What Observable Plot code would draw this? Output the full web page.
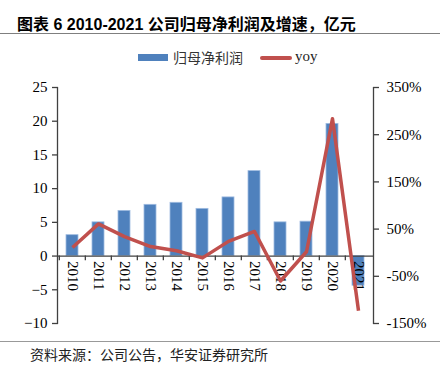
<!DOCTYPE html>
<html>
<head>
<meta charset="utf-8">
<script src="https://cdn.jsdelivr.net/npm/d3@7"></script>
<script src="https://cdn.jsdelivr.net/npm/@observablehq/plot@0.6"></script>
<style>
  html, body { margin: 0; padding: 0; background: #fff; }
  #wrap { position: relative; width: 440px; height: 370px; overflow: hidden; background: #fff; }
  .title { position: absolute; left: 17px; top: 11px; font: bold 16px "Liberation Sans", "Noto Sans CJK SC", sans-serif; color: #000; white-space: nowrap; }
  .hr { position: absolute; left: 0; width: 440px; height: 1px; background: #7f7f7f; }
  .legend { position: absolute; top: 48px; left: 0; width: 440px; height: 20px; font: 14px "Noto Sans CJK SC", sans-serif; color: #333; }
  .legend .sw { position: absolute; }
  .legend .lb { position: absolute; top: 0; white-space: nowrap; }
  .foot { position: absolute; left: 30px; top: 344px; font: 14px "Noto Sans CJK SC", sans-serif; color: #222; white-space: nowrap; }
  #chart { position: absolute; left: 0; top: 70px; }
</style>
</head>
<body>
<div id="wrap">
  <div class="title">图表 6 2010-2021 公司归母净利润及增速，亿元</div>
  <div class="hr" style="top:33px"></div>
  <div class="legend">
    <div class="sw" style="left:138px; top:6px; width:30px; height:7px; background:#4F81BD"></div>
    <div class="lb" style="left:173px; top:-1px">归母净利润</div>
    <div class="sw" style="left:260px; top:8px; width:32px; height:4px; background:#C0504D; border-radius:2px"></div>
    <div class="lb" style="left:295px; top:0px; font: 15px 'Liberation Serif', serif; color:#222">yoy</div>
  </div>
  <div id="chart"></div>
  <div class="hr" style="top:341px; background:#999"></div>
  <div class="foot">资料来源：公司公告，华安证券研究所</div>
</div>
<script>
const years = ["2010","2011","2012","2013","2014","2015","2016","2017","2018","2019","2020","2021"];
const profit = [3.1, 5.0, 6.7, 7.6, 7.9, 7.0, 8.7, 12.6, 5.0, 5.1, 19.6, -4.4];
const yoy = [11, 61, 34, 13, 4, -11, 24, 45, -60, 2, 284, -123];
const leftTicks = [-10, -5, 0, 5, 10, 15, 20, 25];
const rightTicks = [-150, -50, 50, 150, 250, 350];

const leftDomain = [-10, 25];
const rightDomain = [-150, 350];
const toLeft = v => leftDomain[0] + (v - rightDomain[0]) / (rightDomain[1] - rightDomain[0]) * (leftDomain[1] - leftDomain[0]);
const fromLeft = v => rightDomain[0] + (v - leftDomain[0]) / (leftDomain[1] - leftDomain[0]) * (rightDomain[1] - rightDomain[0]);

const data = years.map((y, i) => ({year: y, profit: profit[i], yoy: yoy[i], yoyL: toLeft(yoy[i])}));

const W = 440, H = 270, ml = 57, mr = 67, mt = 17, mb = 17;
const step = (W - ml - mr) / years.length;
const axisColor = "#404040";
const font = "'Liberation Serif', 'Times New Roman', serif";

const plot = Plot.plot({
  width: W, height: H,
  marginLeft: ml, marginRight: mr, marginTop: mt, marginBottom: mb,
  style: {fontFamily: font, fontSize: "15px", color: "#000", background: "transparent"},
  x: {domain: years, paddingInner: 0.52, paddingOuter: 0.26, axis: null},
  y: {domain: leftDomain, axis: null},
  marks: [
    Plot.barY(data, {x: "year", y: "profit", fill: "#4F81BD", stroke: "#9fbbe0", strokeWidth: 0.8}),
    Plot.ruleY([0], {stroke: axisColor, strokeWidth: 1.3}),
    Plot.ruleX(years, {x: d => d, y1: 0, y2: -0.7, dx: -step / 2, stroke: axisColor, strokeWidth: 1.3}),
    Plot.frame({anchor: "left", stroke: axisColor, strokeWidth: 1.3}),
    Plot.frame({anchor: "right", stroke: axisColor, strokeWidth: 1.3}),
    Plot.axisY(leftTicks, {anchor: "left", tickSize: 5, tickPadding: 5, stroke: axisColor, strokeWidth: 1.3, fill: "#000", label: null}),
    Plot.axisY(rightTicks.map(toLeft), {anchor: "right", tickSize: 5, tickPadding: 8, stroke: axisColor, strokeWidth: 1.3, fill: "#000", label: null,
      tickFormat: v => Math.round(fromLeft(v)) + "%"}),
    Plot.text(data, {x: "year", y: 0, text: "year", rotate: 90, textAnchor: "start", lineAnchor: "middle", dy: 5, fill: "#000"}),
    Plot.line(data, {x: "year", y: "yoyL", stroke: "#C0504D", strokeWidth: 3.5, strokeLinejoin: "round", strokeLinecap: "butt"})
  ]
});
document.getElementById("chart").appendChild(plot);
</script>
</body>
</html>
